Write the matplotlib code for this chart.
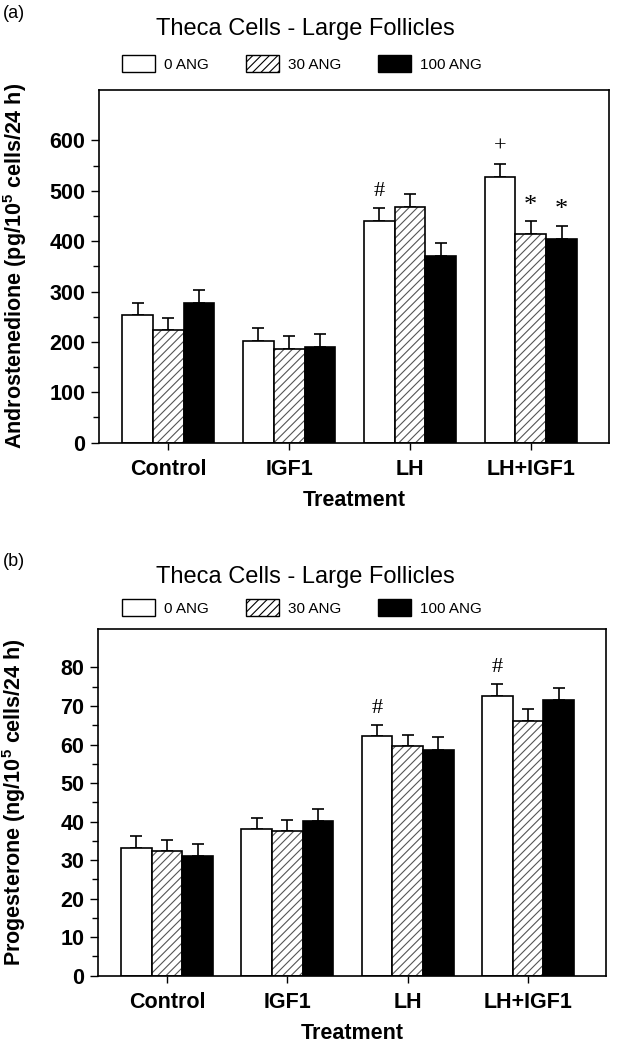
import matplotlib; matplotlib.use("Agg")
import matplotlib.pyplot as plt
import numpy as np
from matplotlib.patches import Patch

plt.rcParams["font.family"] = ["Liberation Sans", "DejaVu Sans"]
plt.rcParams["hatch.linewidth"] = 0.8
plt.rcParams["mathtext.fontset"] = "custom"
plt.rcParams["mathtext.bf"] = "Liberation Sans:bold"
plt.rcParams["mathtext.rm"] = "Liberation Sans"

groups = ["Control", "IGF1", "LH", "LH+IGF1"]
doses = ["0 ANG", "30 ANG", "100 ANG"]

# androstenedione (pg/10^5 cells/24 h), mean and SEM
andro_0 = [253, 202, 440, 528]
andro_0_sem = [25, 25, 26, 26]
andro_30 = [224, 186, 467, 414]
andro_30_sem = [24, 26, 27, 25]
andro_100 = [278, 190, 370, 405]
andro_100_sem = [25, 26, 26, 26]

# progesterone (ng/10^5 cells/24 h)
prog_0 = [33.2, 38.0, 62.2, 72.6]
prog_0_sem = [3.0, 3.0, 2.9, 3.1]
prog_30 = [32.4, 37.5, 59.6, 66.2]
prog_30_sem = [2.8, 3.0, 3.0, 3.0]
prog_100 = [31.1, 40.1, 58.7, 71.5]
prog_100_sem = [3.2, 3.1, 3.2, 3.1]

# (group, dose index, symbol)
andro_marks = [(2, 0, "#"), (3, 0, "+"), (3, 1, "*"), (3, 2, "*")]
prog_marks = [(2, 0, "#"), (3, 0, "#")]

styles = [dict(color="white", hatch=None), dict(color="white", hatch="////"),
          dict(color="black", hatch=None)]

fig = plt.figure(figsize=(6.27, 10.5), dpi=100)

def panel(rect, means, sems, marks, ylim, yticks, yminor, ylabel, title, letter, ytitle, yleg, yletter):
    ax = fig.add_axes(rect)
    x = np.arange(len(groups))
    w = 0.2545
    for i, (m, s) in enumerate(zip(means, sems)):
        xi = x + (i - 1) * w
        ax.errorbar(xi, m, yerr=[np.zeros(len(m)), s], fmt="none", ecolor="black",
                    elinewidth=1.2, capsize=4.5, capthick=1.2, zorder=1)
        st = styles[i]
        if st["hatch"]:
            ax.bar(xi, m, w, color="white", edgecolor="#555555", linewidth=0,
                   hatch=st["hatch"], zorder=2)
            ax.bar(xi, m, w, fill=False, edgecolor="black", linewidth=1.2, zorder=3)
        else:
            ax.bar(xi, m, w, color=st["color"], edgecolor="black", linewidth=1.2, zorder=2)
    for g, d, sym in marks:
        top = means[d][g] + sems[d][g]
        ax.annotate(sym, (x[g] + (d - 1) * w, top), xytext=(0, 12 if sym != "*" else 11),
                    textcoords="offset points", ha="center", va="center",
                    fontsize=19 if sym == "*" else 16, family="Liberation Serif")
    ax.set_xlim(-0.571, 3.647)
    ax.set_ylim(*ylim)
    ax.set_yticks(yticks)
    ax.set_yticks(yminor, minor=True)
    ax.set_xticks(x)
    ax.set_xticklabels(groups, fontsize=15.5, fontweight="bold")
    ax.tick_params(axis="y", which="major", length=6, width=1, labelsize=15.5, pad=4)
    ax.tick_params(axis="y", which="minor", length=4, width=1)
    ax.tick_params(axis="x", length=5, width=1, pad=7)
    for t in ax.get_yticklabels():
        t.set_fontweight("bold")
    for sp in ax.spines.values():
        sp.set_linewidth(1.2)
    ax.set_xlabel("Treatment", fontsize=15.5, fontweight="bold", labelpad=7)
    ax.set_ylabel(ylabel, fontsize=15.5, fontweight="bold")
    ax.yaxis.set_label_coords(-0.138, 0.5)
    fig.text(305 / 627, 1 - ytitle / 1050, title, ha="center", va="baseline", fontsize=17)
    fig.text(3 / 627, 1 - yletter / 1050, letter, ha="left", va="center", fontsize=13)
    handles = [Patch(facecolor=st["color"], edgecolor="black", hatch=st["hatch"], linewidth=1)
               for st in styles]
    fig.legend(handles, doses, loc="center", bbox_to_anchor=(302 / 627, 1 - yleg / 1050),
               ncol=3, frameon=False, fontsize=11, handlelength=2.15, handleheight=1.35,
               handletextpad=0.6, columnspacing=2.4)
    return ax

panel([0.1584, 0.5784, 0.8129, 0.3359],
      [andro_0, andro_30, andro_100], [andro_0_sem, andro_30_sem, andro_100_sem], andro_marks,
      (0, 700), np.arange(0, 601, 100), np.arange(50, 600, 100),
      r"Androstenedione (pg/10$^{\mathbf{5}}$ cells/24 h)",
      "Theca Cells - Large Follicles", "(a)", 35, 63.5, 13)

panel([0.1568, 0.0708, 0.8097, 0.3302],
      [prog_0, prog_30, prog_100], [prog_0_sem, prog_30_sem, prog_100_sem], prog_marks,
      (0, 90), np.arange(0, 81, 10), np.arange(5, 80, 10),
      r"Progesterone (ng/10$^{\mathbf{5}}$ cells/24 h)",
      "Theca Cells - Large Follicles", "(b)", 583, 607.5, 562)

fig.savefig("out.png", dpi=100)
